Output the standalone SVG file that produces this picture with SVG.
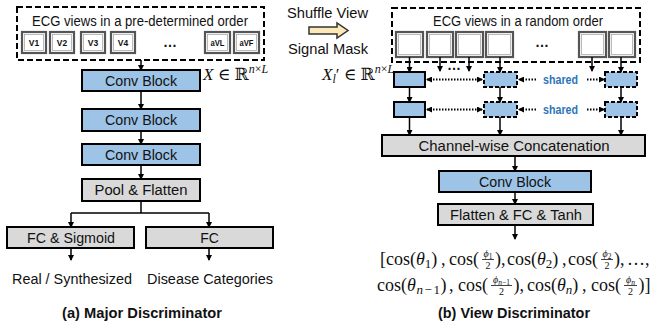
<svg xmlns="http://www.w3.org/2000/svg" width="652" height="331" viewBox="0 0 652 331">
<style>
.t{font-family:"Liberation Sans",Arial,sans-serif;font-size:14px;fill:#111;text-anchor:middle}
.b{font-weight:bold}
.blue{fill:#9DC3E6;stroke:#000;stroke-width:2}
.gray{fill:#D9D9D9;stroke:#000;stroke-width:2}
.dash{fill:none;stroke:#000;stroke-width:2;stroke-dasharray:6,3}
.dblue{fill:#9DC3E6;stroke:#000;stroke-width:2;stroke-dasharray:4,2}
.vo{fill:#fff;stroke:#555;stroke-width:2.2}
.vi{fill:none;stroke:#aaa;stroke-width:0.8}
.vt{font-family:"Liberation Sans",Arial,sans-serif;font-size:8.5px;font-weight:bold;fill:#111;text-anchor:middle}
.ar{stroke:#000;stroke-width:1.5;fill:none;marker-end:url(#ah)}
.ln{stroke:#000;stroke-width:1.5;fill:none}
.dot{stroke:#000;stroke-width:2;stroke-dasharray:1.5,1.5;fill:none}
.m{font-family:"Liberation Serif","DejaVu Serif",serif;font-size:18px;fill:#111}
.x{font-family:"Liberation Serif","DejaVu Serif",serif;font-size:17px;fill:#111}
.mi{font-style:italic}
.s{font-size:13px}
.sp{font-size:12px}
.f{font-family:"Liberation Serif","DejaVu Serif",serif;font-size:10px;fill:#111;text-anchor:middle}
.fs{font-size:7.5px}
.r{font-family:"DejaVu Serif",serif}
.bar{stroke:#111;stroke-width:0.8}
.sh{font-family:"Liberation Sans",Arial,sans-serif;font-size:12px;font-weight:bold;fill:#2E75B6;text-anchor:middle}
</style>
<defs>
<marker id="ah" viewBox="0 0 6 6" refX="5" refY="3" markerWidth="6" markerHeight="6" markerUnits="userSpaceOnUse" orient="auto-start-reverse">
<path d="M0,0 L6,3 L0,6 z" fill="#000"/>
</marker>
</defs>

<!-- Left panel -->
<g id="views-left">
<rect class="dash" x="17" y="7" width="247" height="53"/>
<text class="t" x="140" y="26" textLength="216" lengthAdjust="spacingAndGlyphs">ECG views in a pre-determined order</text>
<rect class="vo" x="22" y="32" width="24" height="21"/><rect class="vi" x="24.5" y="34.5" width="19" height="16"/><text class="vt" x="34" y="46">V1</text>
<rect class="vo" x="50" y="32" width="24" height="21"/><rect class="vi" x="52.5" y="34.5" width="19" height="16"/><text class="vt" x="62" y="46">V2</text>
<rect class="vo" x="81" y="32" width="24" height="21"/><rect class="vi" x="83.5" y="34.5" width="19" height="16"/><text class="vt" x="93" y="46">V3</text>
<rect class="vo" x="111" y="32" width="24" height="21"/><rect class="vi" x="113.5" y="34.5" width="19" height="16"/><text class="vt" x="123" y="46">V4</text>
<text class="t b" x="170" y="47">…</text>
<rect class="vo" x="205" y="32" width="25" height="21"/><rect class="vi" x="207.5" y="34.5" width="20" height="16"/><text class="vt" x="217.5" y="46" textLength="14" lengthAdjust="spacingAndGlyphs">aVL</text>
<rect class="vo" x="234" y="32" width="25" height="21"/><rect class="vi" x="236.5" y="34.5" width="20" height="16"/><text class="vt" x="246.5" y="46" textLength="14" lengthAdjust="spacingAndGlyphs">aVF</text>
</g>
<text class="x" x="203" y="80"><tspan class="mi">X</tspan> ∈ <tspan class="r">ℝ</tspan><tspan class="sp mi" dy="-7">n</tspan><tspan class="sp">×</tspan><tspan class="sp mi">L</tspan></text>

<g id="conv1-left"><rect class="blue" x="82" y="70" width="118" height="21"/><text class="t" x="141" y="86" textLength="72" lengthAdjust="spacingAndGlyphs">Conv Block</text></g>
<g id="conv2-left"><rect class="blue" x="82" y="109" width="118" height="22"/><text class="t" x="141" y="125" textLength="72" lengthAdjust="spacingAndGlyphs">Conv Block</text></g>
<g id="conv3-left"><rect class="blue" x="82" y="144" width="118" height="21"/><text class="t" x="141" y="160" textLength="72" lengthAdjust="spacingAndGlyphs">Conv Block</text></g>
<g id="pool"><rect class="gray" x="82" y="179" width="118" height="22"/><text class="t" x="141" y="195" textLength="93" lengthAdjust="spacingAndGlyphs">Pool &amp; Flatten</text></g>
<g id="fc-sigmoid"><rect class="gray" x="7" y="227" width="127" height="21"/><text class="t" x="71" y="243" textLength="88" lengthAdjust="spacingAndGlyphs">FC &amp; Sigmoid</text></g>
<g id="fc"><rect class="gray" x="146" y="227" width="127" height="21"/><text class="t" x="209.5" y="243">FC</text></g>
<text class="t" x="72" y="284" textLength="120" lengthAdjust="spacingAndGlyphs">Real / Synthesized</text>
<text class="t" x="210" y="284" textLength="126" lengthAdjust="spacingAndGlyphs">Disease Categories</text>
<text class="t b" x="142" y="318" textLength="160" lengthAdjust="spacingAndGlyphs">(a) Major Discriminator</text>

<!-- Middle -->
<text class="t" x="327.5" y="18" textLength="81" lengthAdjust="spacingAndGlyphs">Shuffle View</text>
<g id="shuffle-arrow"><path d="M309,27 L337,27 L337,23 L348,30.5 L337,38 L337,34 L309,34 z" fill="#FDE9B8" stroke="#333" stroke-width="1.5"/></g>
<text class="t" x="328" y="54" textLength="80" lengthAdjust="spacingAndGlyphs">Signal Mask</text>
<text class="x" x="322" y="80"><tspan class="mi">X</tspan><tspan class="sp mi" dy="3">l</tspan><tspan dy="-3">′ ∈ </tspan><tspan class="r">ℝ</tspan><tspan class="sp mi" dy="-7">n</tspan><tspan class="sp">×</tspan><tspan class="sp mi">L</tspan></text>

<!-- Right panel -->
<g id="views-right">
<rect class="dash" x="392" y="8" width="248" height="54"/>
<text class="t" x="518" y="26" textLength="170" lengthAdjust="spacingAndGlyphs">ECG views in a random order</text>
<rect class="vo" x="396" y="32" width="27" height="25"/><rect class="vi" x="398.5" y="34.5" width="22" height="20"/>
<rect class="vo" x="427" y="32" width="26" height="25"/><rect class="vi" x="429.5" y="34.5" width="21" height="20"/>
<rect class="vo" x="456" y="32" width="27" height="25"/><rect class="vi" x="458.5" y="34.5" width="22" height="20"/>
<rect class="vo" x="486" y="32" width="27" height="25"/><rect class="vi" x="488.5" y="34.5" width="22" height="20"/>
<text class="t b" x="542" y="47">…</text>
<rect class="vo" x="579" y="32" width="27" height="25"/><rect class="vi" x="581.5" y="34.5" width="22" height="20"/>
<rect class="vo" x="609" y="32" width="26" height="25"/><rect class="vi" x="611.5" y="34.5" width="21" height="20"/>
</g>
<text class="t b" x="454" y="70">…</text>

<g id="enc-1-1"><rect class="blue" x="394" y="72" width="31" height="15"/></g>
<g id="enc-1-2"><rect class="dblue" x="484" y="72" width="33" height="15"/></g>
<g id="enc-1-3"><rect class="dblue" x="605" y="72" width="32" height="15"/></g>
<g id="enc-2-1"><rect class="blue" x="394" y="102" width="31" height="15"/></g>
<g id="enc-2-2"><rect class="dblue" x="484" y="102" width="33" height="15"/></g>
<g id="enc-2-3"><rect class="dblue" x="605" y="102" width="32" height="15"/></g>
<text class="sh" x="560.5" y="84" textLength="35" lengthAdjust="spacingAndGlyphs">shared</text>
<text class="sh" x="560.5" y="114" textLength="35" lengthAdjust="spacingAndGlyphs">shared</text>

<g id="concat"><rect class="gray" x="382" y="135" width="263" height="21"/><text class="t" x="514" y="151" textLength="191" lengthAdjust="spacingAndGlyphs">Channel-wise Concatenation</text></g>
<g id="conv-right"><rect class="blue" x="439" y="171" width="152" height="21"/><text class="t" x="515" y="187" textLength="72" lengthAdjust="spacingAndGlyphs">Conv Block</text></g>
<g id="flatten"><rect class="gray" x="438" y="204" width="155" height="21"/><text class="t" x="516" y="220" textLength="132" lengthAdjust="spacingAndGlyphs">Flatten &amp; FC &amp; Tanh</text></g>

<g id="output-formula">
<!-- line 1 -->
<text class="m" x="380" y="265">[cos(<tspan class="mi">θ</tspan><tspan class="s" dy="3">1</tspan><tspan dy="-3">)</tspan></text>
<text class="m" x="441" y="265">,</text>
<text class="m" x="449" y="265">cos(</text>
<text class="f" x="488" y="257"><tspan class="mi">ϕ</tspan><tspan class="fs" dy="2">1</tspan></text>
<line class="bar" x1="482" y1="259.5" x2="494" y2="259.5"/>
<text class="f" x="488" y="268.5">2</text>
<text class="m" x="495" y="265">),</text>
<text class="m" x="507" y="265">cos(<tspan class="mi">θ</tspan><tspan class="s" dy="3">2</tspan><tspan dy="-3">)</tspan></text>
<text class="m" x="562" y="265">,</text>
<text class="m" x="568" y="265">cos(</text>
<text class="f" x="607" y="257"><tspan class="mi">ϕ</tspan><tspan class="fs" dy="2">2</tspan></text>
<line class="bar" x1="601" y1="259.5" x2="613" y2="259.5"/>
<text class="f" x="607" y="268.5">2</text>
<text class="m" x="614" y="265">),</text>
<text class="m" x="627" y="265" font-size="16">…</text>
<text class="m" x="645" y="265">,</text>
<!-- line 2 -->
<text class="m" x="377" y="291">cos(<tspan class="mi">θ</tspan></text>
<text class="m s" x="416.5" y="294"><tspan class="mi">n</tspan></text>
<text class="m s" x="424.5" y="294">−</text>
<text class="m s" x="433.5" y="294">1</text>
<text class="m" x="440.5" y="291">)</text>
<text class="m" x="449" y="291">,</text>
<text class="m" x="458" y="291">cos(</text>
<text class="f" x="501.5" y="283"><tspan class="mi">ϕ</tspan><tspan class="fs" dy="2"><tspan class="mi">n</tspan>−1</tspan></text>
<line class="bar" x1="491" y1="285.5" x2="512" y2="285.5"/>
<text class="f" x="501.5" y="294.5">2</text>
<text class="m" x="513.5" y="291">),</text>
<text class="m" x="527" y="291">cos(<tspan class="mi">θ</tspan><tspan class="s mi" dy="3">n</tspan><tspan dy="-3">)</tspan></text>
<text class="m" x="582" y="291">,</text>
<text class="m" x="591" y="291">cos(</text>
<text class="f" x="630.5" y="283"><tspan class="mi">ϕ</tspan><tspan class="fs mi" dy="2">n</tspan></text>
<line class="bar" x1="624" y1="285.5" x2="637" y2="285.5"/>
<text class="f" x="630.5" y="294.5">2</text>
<text class="m" x="638.5" y="291">)]</text>
</g>
<text class="t b" x="514" y="318" textLength="152" lengthAdjust="spacingAndGlyphs">(b) View Discriminator</text>

<g id="connectors">
<!-- left -->
<line class="ar" x1="141" y1="60" x2="141" y2="70"/>
<line class="ar" x1="141" y1="91" x2="141" y2="109"/>
<line class="ar" x1="141" y1="131" x2="141" y2="144"/>
<line class="ar" x1="141" y1="165" x2="141" y2="179"/>
<line class="ln" x1="141" y1="201" x2="141" y2="213"/>
<line class="ln" x1="71" y1="213" x2="209" y2="213"/>
<line class="ar" x1="71" y1="213" x2="71" y2="227"/>
<line class="ar" x1="209" y1="213" x2="209" y2="227"/>
<line class="ar" x1="71" y1="248" x2="71" y2="260"/>
<line class="ar" x1="209" y1="248" x2="209" y2="260"/>
<!-- right top -->
<line class="ar" x1="409.5" y1="57" x2="409.5" y2="72"/>
<line class="ar" x1="440" y1="57" x2="440" y2="71"/>
<line class="ar" x1="469" y1="57" x2="469" y2="71"/>
<line class="ar" x1="500" y1="57" x2="500" y2="72"/>
<line class="ar" x1="592" y1="57" x2="592" y2="71"/>
<line class="ar" x1="621" y1="57" x2="621" y2="72"/>
<line class="ar" x1="409.5" y1="87" x2="409.5" y2="102"/>
<line class="ar" x1="500" y1="87" x2="500" y2="102"/>
<line class="ar" x1="621" y1="87" x2="621" y2="102"/>
<line class="ar" x1="409.5" y1="117" x2="409.5" y2="135"/>
<line class="ar" x1="500" y1="117" x2="500" y2="135"/>
<line class="ar" x1="621" y1="117" x2="621" y2="135"/>
<!-- shared dotted -->
<line class="dot" x1="427" y1="79.5" x2="482" y2="79.5" marker-start="url(#ah)" marker-end="url(#ah)"/>
<line class="dot" x1="536" y1="79.5" x2="519" y2="79.5" marker-end="url(#ah)"/>
<line class="dot" x1="587" y1="79.5" x2="604" y2="79.5" marker-end="url(#ah)"/>
<line class="dot" x1="427" y1="109.5" x2="482" y2="109.5" marker-start="url(#ah)" marker-end="url(#ah)"/>
<line class="dot" x1="536" y1="109.5" x2="519" y2="109.5" marker-end="url(#ah)"/>
<line class="dot" x1="587" y1="109.5" x2="604" y2="109.5" marker-end="url(#ah)"/>
<!-- right bottom -->
<line class="ar" x1="515" y1="156" x2="515" y2="171"/>
<line class="ar" x1="515" y1="192" x2="515" y2="204"/>
<line class="ar" x1="515" y1="225" x2="515" y2="239"/>
</g>
</svg>
